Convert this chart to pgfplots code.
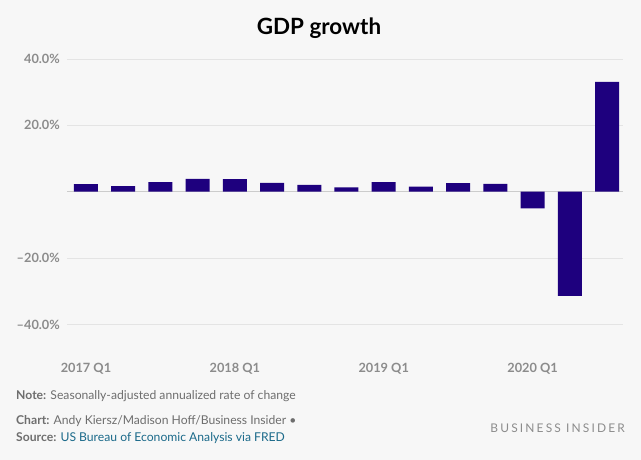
\documentclass[border=0pt]{standalone}
\usepackage{pgfplots}
\pgfplotsset{compat=1.18}
\usepackage{fontspec}
\setmainfont{Lato}
\definecolor{bg}{HTML}{F7F7F7}
\definecolor{barc}{HTML}{1E007E}
\definecolor{gridc}{HTML}{E4E4E4}
\definecolor{zeroc}{HTML}{CCCCCC}
\definecolor{tickc}{HTML}{8C8C8C}
\definecolor{footc}{HTML}{6E6E6E}
\definecolor{linkc}{HTML}{1B6A8A}
\begin{document}
\begin{tikzpicture}[x=1bp,y=1bp]
\fill[bg] (0,0) rectangle (641,460);
\useasboundingbox (0,0) rectangle (641,460);
\node[font=\bfseries\fontsize{22.5}{25}\selectfont, anchor=base] at (319,425) {GDP growth};
\begin{axis}[
  at={(67bp,109bp)}, anchor=south west,
  scale only axis, width=556bp, height=292bp,
  xmin=-0.51, xmax=14.43, ymin=-48, ymax=40,
  axis line style={draw=none}, major tick style={draw=none},
  ymajorgrids, grid style={gridc, line width=0.8pt},
  ytick={-40,-20,20,40},
  yticklabels={–40.0\%,–20.0\%,20.0\%,40.0\%},
  xtick={0,4,8,12},
  xticklabels={2017 Q1,2018 Q1,2019 Q1,2020 Q1},
  ticklabel style={font=\bfseries\fontsize{12.8}{14}\selectfont, text=tickc},
  yticklabel style={anchor=east, inner sep=0pt, xshift=-7bp},
  xticklabel style={anchor=base, inner sep=0pt, yshift=-17bp},
  extra y ticks={0}, extra y tick labels={},
  extra y tick style={grid style={zeroc, line width=1pt}, major tick style={draw=none}},
  ybar, bar width=24bp,
]
\addplot[fill=barc, draw=none] coordinates {
(0,2.3) (1,1.7) (2,2.9) (3,3.9) (4,3.8) (5,2.7) (6,2.1) (7,1.3)
(8,2.9) (9,1.5) (10,2.6) (11,2.4) (12,-5.0) (13,-31.4) (14,33.1)};
\end{axis}
\begin{scope}[font=\fontsize{12.2}{13}\selectfont]
\node[anchor=base west, inner sep=0pt, text=footc] at (16,60) {\textbf{Note:} Seasonally-adjusted annualized rate of change};
\node[anchor=base west, inner sep=0pt, text=footc] at (16,35) {\textbf{Chart:} Andy Kiersz/Madison Hoff/Business Insider •};
\node[anchor=base west, inner sep=0pt, text=footc] at (16,18) {\textbf{Source:} \textcolor{linkc}{US Bureau of Economic Analysis via FRED}};
\end{scope}
\node[anchor=base east, inner sep=0pt, text=tickc, font=\fontsize{12}{13}\selectfont\addfontfeatures{LetterSpace=18}] at (625,27) {BUSINESS INSIDER};
\end{tikzpicture}
\end{document}
